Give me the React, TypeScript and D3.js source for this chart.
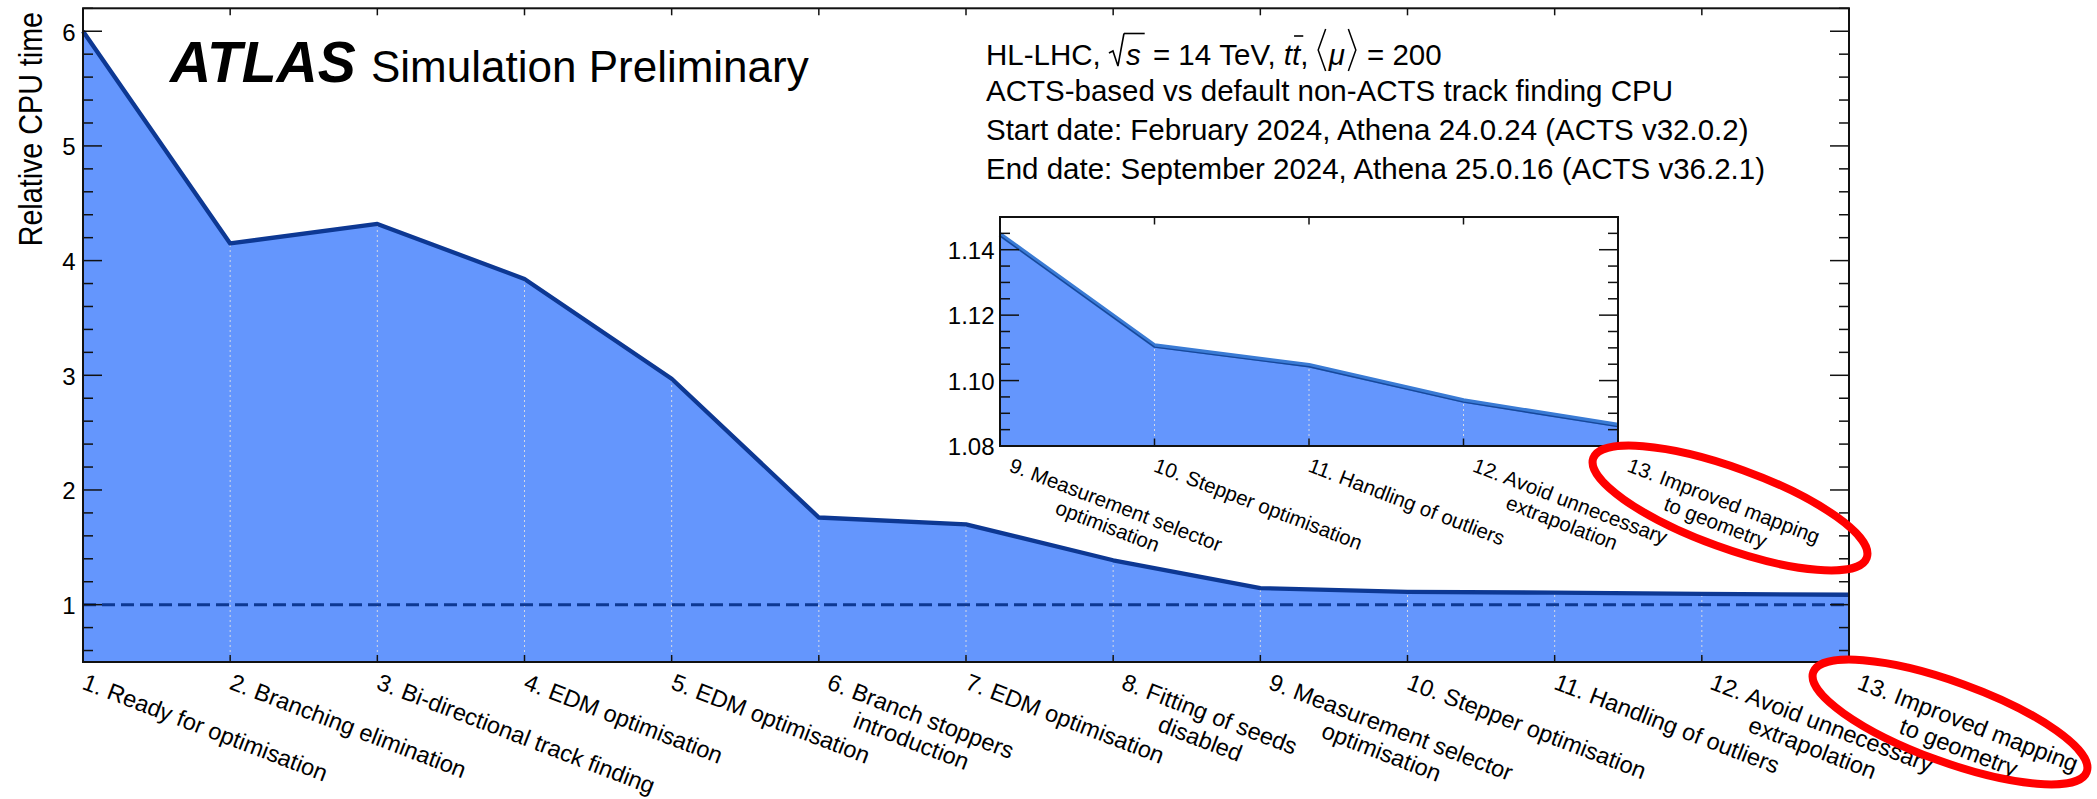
import React, { useEffect, useRef } from 'react';
import * as d3 from 'd3';

// ---------------- data ----------------
const steps = [1, 2, 3, 4, 5, 6, 7, 8, 9, 10, 11, 12, 13];
const cpuTime = [6.0, 4.15, 4.32, 3.84, 2.97, 1.76, 1.70, 1.387, 1.1447, 1.1107, 1.1047, 1.0939, 1.0864];
const stepLabels: string[][] = [
  ['1. Ready for optimisation'],
  ['2. Branching elimination'],
  ['3. Bi-directional track finding'],
  ['4. EDM optimisation'],
  ['5. EDM optimisation'],
  ['6. Branch stoppers', 'introduction'],
  ['7. EDM optimisation'],
  ['8. Fitting of seeds', 'disabled'],
  ['9. Measurement selector', 'optimisation'],
  ['10. Stepper optimisation'],
  ['11. Handling of outliers'],
  ['12. Avoid unnecessary', 'extrapolation'],
  ['13. Improved mapping', 'to geometry'],
];
const insetSteps = [9, 10, 11, 12, 13];
const insetTime = [1.1447, 1.1107, 1.1047, 1.0939, 1.0864];
const yTicks = [1, 2, 3, 4, 5, 6];
const insetYTicks = [1.08, 1.10, 1.12, 1.14];
const insetYTickLabels = ['1.08', '1.10', '1.12', '1.14'];
const headerLines = [
  'ACTS-based vs default non-ACTS track finding CPU',
  'Start date: February 2024, Athena 24.0.24 (ACTS v32.0.2)',
  'End date: September 2024, Athena 25.0.16 (ACTS v36.2.1)',
];
const highlightedStep = 13;

const FONT = "'Liberation Sans', Arial, Helvetica, sans-serif";
const FILL = '#6496fd';
const LINE = '#0d3893';
const NB = '\u00A0';

export default function App() {
  const ref = useRef<SVGSVGElement>(null);

  useEffect(() => {
    document.body.style.margin = '0';
    const svg = d3.select(ref.current as SVGSVGElement);
    svg.selectAll('*').remove();
    svg.append('rect').attr('width', 2097).attr('height', 799).attr('fill', '#fff');
    const root = svg.append('g').attr('font-family', FONT).attr('fill', '#000');

    // ---------- main plot ----------
    const x = d3.scaleLinear().domain([1, 13]).range([83, 1849]);
    const y = d3.scaleLinear().domain([0.5, 6.2]).range([662, 8.3]);
    const data = steps.map((s, i) => ({ s, v: cpuTime[i] }));
    const area = d3.area<{ s: number; v: number }>().x(d => x(d.s)).y0(y(0.5)).y1(d => y(d.v));
    const line = d3.line<{ s: number; v: number }>().x(d => x(d.s)).y(d => y(d.v));

    const g = root.append('g');
    g.append('path').attr('d', area(data) as string).attr('fill', FILL);
    data.slice(1, -1).forEach(d => {
      g.append('line')
        .attr('x1', x(d.s)).attr('x2', x(d.s))
        .attr('y1', y(0.5)).attr('y2', y(d.v))
        .attr('stroke', '#d3d8e6').attr('stroke-width', 1).attr('stroke-dasharray', '2,3');
    });
    g.append('line')
      .attr('x1', x(1)).attr('x2', x(13)).attr('y1', y(1)).attr('y2', y(1))
      .attr('stroke', LINE).attr('stroke-width', 3).attr('stroke-dasharray', '13,6');
    g.append('path').attr('d', line(data) as string).attr('fill', 'none')
      .attr('stroke', LINE).attr('stroke-width', 4.3).attr('stroke-linejoin', 'round');

    const drawFrame = (
      gg: any, xs: any, ys: any, cats: number[], majors: number[], minors: number[],
      xTick: number, yMaj: number, yMin: number
    ) => {
      const [x0, x1] = xs.range();
      const [yb, yt] = ys.range();
      gg.append('rect').attr('x', x0).attr('y', yt).attr('width', x1 - x0).attr('height', yb - yt)
        .attr('fill', 'none').attr('stroke', '#111').attr('stroke-width', 2);
      cats.forEach(c => {
        gg.append('line').attr('x1', xs(c)).attr('x2', xs(c)).attr('y1', yt).attr('y2', yt + xTick)
          .attr('stroke', '#111').attr('stroke-width', 1.5);
        gg.append('line').attr('x1', xs(c)).attr('x2', xs(c)).attr('y1', yb).attr('y2', yb - xTick)
          .attr('stroke', '#111').attr('stroke-width', 1.5);
      });
      const tick = (v: number, len: number) => {
        gg.append('line').attr('x1', x0).attr('x2', x0 + len).attr('y1', ys(v)).attr('y2', ys(v))
          .attr('stroke', '#111').attr('stroke-width', 1.5);
        gg.append('line').attr('x1', x1).attr('x2', x1 - len).attr('y1', ys(v)).attr('y2', ys(v))
          .attr('stroke', '#111').attr('stroke-width', 1.5);
      };
      majors.forEach(v => tick(v, yMaj));
      minors.forEach(v => tick(v, yMin));
    };

    const mainMinors = d3.range(3, 32).map(i => i / 5).filter(v => Math.abs(v - Math.round(v)) > 1e-6);
    drawFrame(g, x, y, steps, yTicks, mainMinors, 7, 19, 10);

    yTicks.forEach(v => {
      g.append('text').attr('x', 75.5).attr('y', y(v) + 9.5).attr('text-anchor', 'end')
        .attr('font-size', 24).text(String(v));
    });

    const drawLabels = (gg: any, xs: any, cats: number[], labs: string[][], oy: number, fs: number, offS: number, offD: number) => {
      cats.forEach((c, i) => {
        const lines = labs[i];
        const ox = xs(c) + (lines.length > 1 ? offD : offS);
        const lg = gg.append('g').attr('transform', `translate(${ox},${oy}) rotate(21)`);
        const t1 = lg.append('text').attr('x', 0).attr('y', 0).attr('font-size', fs).text(lines[0]);
        if (lines.length > 1) {
          const w = (t1.node() as SVGTextElement).getComputedTextLength();
          lg.append('text').attr('x', w / 2).attr('y', fs * 1.12).attr('text-anchor', 'middle')
            .attr('font-size', fs).text(lines[1]);
        }
      });
    };
    drawLabels(g, x, steps, stepLabels, 688.5, 23.5, -2, 7);

    // y title
    g.append('text').attr('transform', 'translate(41.5,12) rotate(-90) scale(1,1.15)').attr('text-anchor', 'end')
      .attr('font-size', 28.7).text('Relative CPU time');

    // ---------- ATLAS label ----------
    root.append('text').attr('x', 170).attr('y', 81.7).attr('font-size', 57)
      .attr('font-weight', 'bold').attr('font-style', 'italic').text('ATLAS');
    root.append('text').attr('x', 371).attr('y', 81.7).attr('font-size', 44).text('Simulation Preliminary');

    // ---------- header ----------
    const fsH = 29.5;
    const hx = 986;
    const hb = 65;
    let cx = hx;
    const put = (t: string, italic = false) => {
      const el = root.append('text').attr('x', cx).attr('y', hb).attr('font-size', fsH).text(t.replace(/ /g, NB));
      if (italic) el.attr('font-style', 'italic');
      const w = (el.node() as SVGTextElement).getComputedTextLength();
      const start = cx;
      cx += w;
      return { start, w };
    };
    put('HL-LHC, ');
    // sqrt sign
    const sq = cx;
    root.append('path')
      .attr('d', `M${sq},${hb - 12} L${sq + 4},${hb - 14} L${sq + 9},${hb + 1} L${sq + 15},${hb - 31.5}`)
      .attr('fill', 'none').attr('stroke', '#000').attr('stroke-width', 1.6);
    cx += 17;
    const sPiece = put('s', true);
    root.append('line').attr('x1', sq + 15).attr('x2', sPiece.start + sPiece.w + 4)
      .attr('y1', hb - 31.5).attr('y2', hb - 31.5).attr('stroke', '#000').attr('stroke-width', 1.6);
    cx += 4;
    put(' = 14 TeV, ');
    put('t', true);
    const t2 = put('t', true);
    root.append('line').attr('x1', t2.start + 2).attr('x2', t2.start + t2.w + 3)
      .attr('y1', hb - 29).attr('y2', hb - 29).attr('stroke', '#000').attr('stroke-width', 1.6);
    put(', ');
    const lb = cx;
    root.append('path').attr('d', `M${lb + 9},${hb - 36} L${lb + 1.5},${hb - 15} L${lb + 9},${hb + 6}`)
      .attr('fill', 'none').attr('stroke', '#000').attr('stroke-width', 1.5);
    cx += 12;
    put('μ', true);
    cx += 2;
    const rb = cx;
    root.append('path').attr('d', `M${rb + 1.5},${hb - 36} L${rb + 9},${hb - 15} L${rb + 1.5},${hb + 6}`)
      .attr('fill', 'none').attr('stroke', '#000').attr('stroke-width', 1.5);
    cx += 12;
    put(' = 200');

    headerLines.forEach((t, i) => {
      root.append('text').attr('x', hx).attr('y', 100.7 + i * 39.1).attr('font-size', fsH).text(t);
    });

    // ---------- inset ----------
    const xi = d3.scaleLinear().domain([9, 13]).range([1000, 1618]);
    const yi = d3.scaleLinear().domain([1.08, 1.15]).range([446, 217]);
    const idata = insetSteps.map((s, i) => ({ s, v: insetTime[i] }));
    const gi = root.append('g');
    gi.append('rect').attr('x', 1000).attr('y', 217).attr('width', 618).attr('height', 229).attr('fill', '#fff');
    const iarea = d3.area<{ s: number; v: number }>().x(d => xi(d.s)).y0(yi(1.08)).y1(d => yi(d.v));
    const iline = d3.line<{ s: number; v: number }>().x(d => xi(d.s)).y(d => yi(d.v));
    gi.append('path').attr('d', iarea(idata) as string).attr('fill', FILL);
    idata.slice(1, -1).forEach(d => {
      gi.append('line').attr('x1', xi(d.s)).attr('x2', xi(d.s)).attr('y1', yi(1.08)).attr('y2', yi(d.v))
        .attr('stroke', '#d3d8e6').attr('stroke-width', 1).attr('stroke-dasharray', '2,3');
    });
    gi.append('path').attr('d', iline(idata) as string).attr('fill', 'none')
      .attr('stroke', '#3a7bd5').attr('stroke-width', 4.5).attr('stroke-linejoin', 'round');
    gi.append('path').attr('d', iline(idata) as string).attr('fill', 'none').attr('transform', 'translate(0,1.6)')
      .attr('stroke', '#17479b').attr('stroke-width', 1.4).attr('stroke-linejoin', 'round');
    const insetMinors = d3.range(216, 231).map(i => i / 200).filter(v => !insetYTicks.some(m => Math.abs(m - v) < 1e-6));
    drawFrame(gi, xi, yi, insetSteps, insetYTicks, insetMinors, 7.5, 19, 10);
    insetYTicks.forEach((v, i) => {
      gi.append('text').attr('x', 994.5).attr('y', yi(v) + 9.3).attr('text-anchor', 'end')
        .attr('font-size', 24).text(insetYTickLabels[i]);
    });
    drawLabels(gi, xi, insetSteps, stepLabels.slice(8), 471, 20.5, -2, 8);

    // ---------- highlight ellipses ----------
    const hlMain = { cx: x(highlightedStep) + 101, cy: 722 };
    const hlInset = { cx: xi(highlightedStep) + 112, cy: 508 };
    [hlMain, hlInset].forEach(e => {
      root.append('ellipse').attr('cx', 0).attr('cy', 0).attr('rx', 145.5).attr('ry', 40)
        .attr('transform', `translate(${e.cx},${e.cy}) rotate(20)`)
        .attr('fill', 'none').attr('stroke', '#ff0000').attr('stroke-width', 8);
    });
  }, []);

  return (
    <svg
      ref={ref}
      width={2097}
      height={799}
      style={{ position: 'absolute', left: 0, top: 0, display: 'block' }}
    />
  );
}
